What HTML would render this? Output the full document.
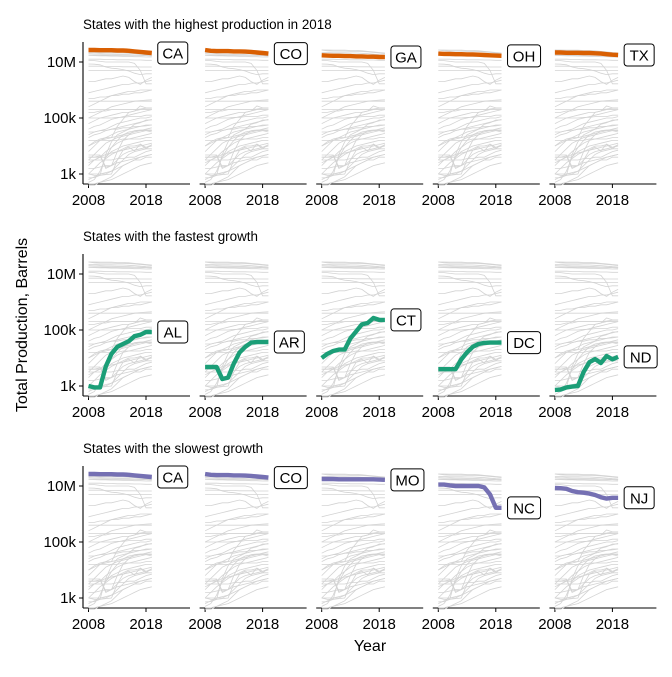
<!DOCTYPE html>
<html><head><meta charset="utf-8"><style>
body{margin:0;background:#fff;}
svg{font-family:"Liberation Sans",sans-serif;}
</style></head><body>
<svg id="chart" width="672" height="672" viewBox="0 0 672 672" xmlns="http://www.w3.org/2000/svg">
<text x="27" y="325" font-size="16" text-anchor="middle" transform="rotate(-90 27 325)">Total Production, Barrels</text>
<text x="370" y="651" font-size="16" text-anchor="middle">Year</text>
</svg>
<script>
const years=[2008,2009,2010,2011,2012,2013,2014,2015,2016,2017,2018,2019];
const yTickVals=[3,5,7];
const yTickLabels=["1k","100k","10M"];
const xTickVals=[2008,2018];
const rowTitles=["States with the highest production in 2018","States with the fastest growth","States with the slowest growth"];
const rowColors=["#d95f02","#1b9e77","#7570b3"];
// log10 barrels
const gCA=[7.43,7.43,7.42,7.42,7.42,7.41,7.41,7.4,7.38,7.36,7.34,7.32];
const gCO=[7.43,7.4,7.39,7.39,7.39,7.38,7.38,7.37,7.36,7.34,7.32,7.3];
const gGA=[7.24,7.23,7.22,7.22,7.21,7.21,7.2,7.2,7.19,7.19,7.18,7.18];
const gOH=[7.3,7.29,7.29,7.28,7.28,7.27,7.27,7.26,7.25,7.24,7.23,7.22];
const gTX=[7.34,7.34,7.33,7.33,7.33,7.32,7.32,7.31,7.3,7.28,7.26,7.25];
const gMO=[7.25,7.25,7.25,7.24,7.24,7.24,7.24,7.24,7.24,7.24,7.23,7.22];
const gNC=[7.05,7.05,7.02,7.0,7.0,7.0,7.0,7.0,6.95,6.7,6.22,6.22];
const gNJ=[6.93,6.92,6.9,6.82,6.78,6.76,6.73,6.68,6.6,6.55,6.58,6.58];
const gAL=[3.0,2.95,2.95,3.7,4.15,4.4,4.5,4.6,4.78,4.83,4.93,4.93];
const gAR=[3.68,3.68,3.68,3.25,3.3,3.8,4.2,4.4,4.55,4.57,4.57,4.57];
const gCT=[4.0,4.15,4.25,4.3,4.3,4.7,4.95,5.2,5.25,5.43,5.36,5.36];
const gDC=[3.6,3.6,3.6,3.6,3.95,4.2,4.4,4.5,4.54,4.55,4.55,4.55];
const gND=[2.86,2.87,2.95,2.98,3.0,3.5,3.85,3.96,3.82,4.07,3.95,4.04];
const gray=[gCA,gCO,gGA,gOH,gTX,gMO,gNC,gNJ,gAL,gAR,gCT,gDC,gND,
[7.1,7.1,7.1,7.09,7.09,7.08,7.08,7.08,7.07,7.07,7.06,7.06],
[6.85,6.85,6.85,6.84,6.84,6.84,6.83,6.83,6.83,6.82,6.82,6.82],
[6.7,6.7,6.7,6.7,6.7,6.7,6.7,6.7,6.7,6.7,6.7,6.7],
[6.3,6.3,6.35,6.4,6.4,6.45,6.5,6.45,6.3,6.2,6.35,6.45],
[5.9,5.95,6.0,6.05,6.1,6.15,6.2,6.2,6.25,6.25,6.3,6.35],
[5.7,5.7,5.75,5.75,5.8,5.8,5.85,5.85,5.9,5.9,5.95,6.0],
[5.4,5.5,5.6,5.7,5.8,5.85,5.9,5.95,5.95,6.0,6.0,6.0],
[5.6,5.6,5.6,5.6,5.6,5.6,5.6,5.6,5.6,5.6,5.6,5.6],
[5.0,5.1,5.2,5.3,5.4,5.45,5.5,5.55,5.6,5.62,5.64,5.65],
[5.2,5.2,5.25,5.25,5.3,5.3,5.3,5.3,5.3,5.32,5.35,5.35],
[5.3,5.3,5.3,5.3,5.3,5.3,5.3,5.3,5.3,5.3,5.3,5.3],
[4.8,4.9,5.0,5.05,5.1,5.15,5.2,5.2,5.25,5.3,5.3,5.3],
[4.6,4.7,4.75,4.85,4.95,5.0,5.05,5.1,5.15,5.2,5.25,5.3],
[5.0,5.0,5.0,5.0,5.0,5.02,5.02,5.05,5.05,5.05,5.1,5.1],
[4.4,4.5,4.55,4.6,4.7,4.8,4.85,4.9,4.95,5.0,5.0,5.05],
[4.3,4.4,4.45,4.55,4.6,4.65,4.7,4.75,4.8,4.85,4.9,4.95],
[4.5,4.5,4.55,4.55,4.6,4.6,4.65,4.65,4.7,4.7,4.75,4.75],
[3.8,4.0,4.2,4.3,4.4,4.5,4.55,4.6,4.65,4.7,4.72,4.75],
[4.0,4.1,4.2,4.25,4.3,4.35,4.4,4.45,4.5,4.55,4.6,4.65],
[3.5,3.7,3.9,4.1,4.2,4.3,4.35,4.4,4.45,4.5,4.55,4.5],
[3.3,3.5,3.6,3.8,3.95,4.1,4.2,4.25,4.3,4.35,4.4,4.45],
[4.2,4.2,4.2,4.2,4.2,4.2,4.25,4.25,4.25,4.25,4.3,4.3],
[3.4,3.5,3.6,3.7,3.75,3.8,3.85,3.9,3.95,4.0,4.05,4.1],
[3.0,3.2,3.4,3.55,3.7,3.8,3.9,4.0,4.0,4.05,3.9,4.05],
[2.7,2.8,3.1,3.6,3.8,3.9,4.0,4.05,4.1,4.15,4.2,4.2],
[3.5,3.5,3.5,3.5,3.5,3.55,3.55,3.6,3.6,3.7,3.8,3.85],
[3.2,3.2,3.25,3.3,3.3,3.4,3.45,3.5,3.55,3.6,3.65,3.7],
[2.8,2.9,3.0,3.0,3.1,3.3,3.5,3.7,3.8,3.85,3.9,3.9],
[3.0,3.0,3.0,3.05,3.1,3.2,3.3,3.4,3.5,3.5,3.6,3.6],
[2.6,2.6,2.7,2.8,2.9,3.1,3.3,3.4,3.5,3.6,3.65,3.7],
[3.6,3.6,3.65,3.2,3.3,3.5,3.7,3.8,3.85,3.9,3.95,4.0],
[2.65,2.65,2.7,2.75,2.8,2.9,3.0,3.1,3.2,3.3,3.35,3.4]];
const rowStates=[["CA","CO","GA","OH","TX"],["AL","AR","CT","DC","ND"],["CA","CO","MO","NC","NJ"]];
const stateData={CA:gCA,CO:gCO,GA:gGA,OH:gOH,TX:gTX,MO:gMO,NC:gNC,NJ:gNJ,AL:gAL,AR:gAR,CT:gCT,DC:gDC,ND:gND};

const svg=document.getElementById('chart');
const NS="http://www.w3.org/2000/svg";
function mk(t,a){const e=document.createElementNS(NS,t);for(const k in a)e.setAttribute(k,a[k]);svg.appendChild(e);return e;}
const panelX0=83,panelStep=116.6,panelW=107,rowStep=212;
function xScale(p,yr){return panelX0+p*panelStep+5.5+(yr-2008)*5.75;}
function yScale(r,v){return 62+r*rowStep+(7-v)*28;}
function pathOf(p,r,arr){return arr.map((v,i)=>(i?'L':'M')+xScale(p,years[i]).toFixed(1)+','+yScale(r,v).toFixed(1)).join(' ');}

for(let r=0;r<3;r++){
  const t=mk('text',{x:83,y:29+r*rowStep,'font-size':13.4});
  t.textContent=rowTitles[r];
  
  
  const ya=mk('line',{x1:83,x2:83,y1:42+r*rowStep,y2:184+r*rowStep,stroke:'#000','stroke-width':1.1});
  
  
  yTickVals.forEach((v,i)=>{
    const y=yScale(r,v);
    mk('line',{x1:79,x2:83,y1:y,y2:y,stroke:'#000'});
    const tl=mk('text',{x:76,y:y+5,'font-size':15,'text-anchor':'end'});
    tl.textContent=yTickLabels[i];
    
    
  });
  for(let p=0;p<5;p++){
    const x0=panelX0+p*panelStep;
    const xa=mk('line',{x1:x0,x2:x0+panelW,y1:184+r*rowStep,y2:184+r*rowStep,stroke:'#000','stroke-width':1.1});
    
    
    xTickVals.forEach(yr=>{
      const x=xScale(p,yr);
      mk('line',{x1:x,x2:x,y1:184+r*rowStep,y2:188+r*rowStep,stroke:'#000'});
      const tl=mk('text',{x:x,y:205+r*rowStep,'font-size':15,'text-anchor':'middle'});
      tl.textContent=yr;
      
      
    });
    gray.forEach(arr=>{
      const g=mk('path',{d:pathOf(p,r,arr),fill:'none',stroke:'#d3d3d3','stroke-width':0.8});
      
      
    });
    const st=rowStates[r][p];const arr=stateData[st];
    const hl=mk('path',{d:pathOf(p,r,arr),fill:'none',stroke:rowColors[r],'stroke-width':4.4,'stroke-linejoin':'round'});
    
    
    const lx=xScale(p,2019)+6,ly=yScale(r,arr[arr.length-1]);
    const bw=(st==='MO'||st==='DC'||st==='NC'||st==='ND'||st==='CO'||st==='OH')?33:30;
    const box=mk('rect',{x:lx,y:ly-11,width:bw,height:22,rx:3,fill:'#fff',stroke:'#000','stroke-width':1});
    
    
    const lt=mk('text',{x:lx+bw/2,y:ly+5.5,'font-size':15,'text-anchor':'middle'});
    lt.textContent=st;
    
    
  }
}
</script>
</body></html>
